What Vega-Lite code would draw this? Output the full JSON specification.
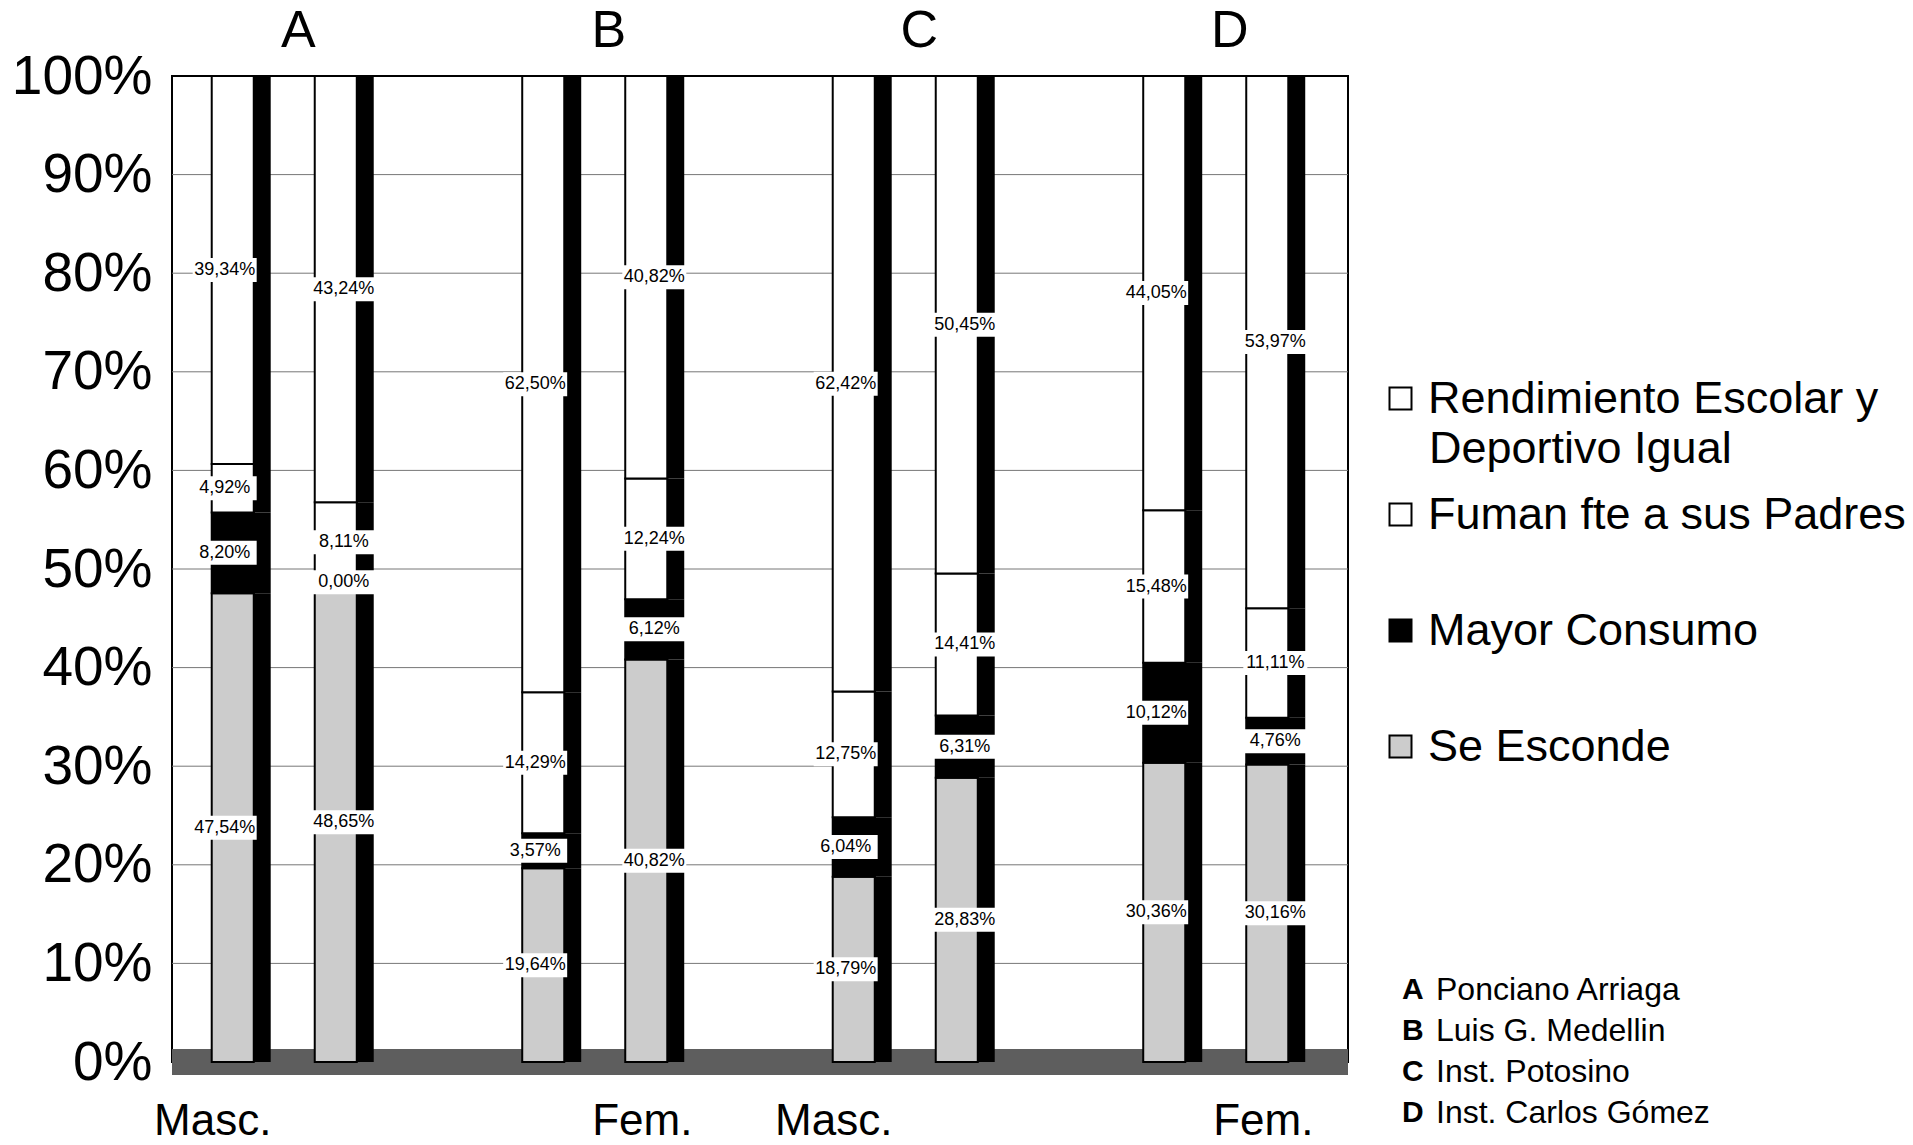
{
  "$schema": "https://vega.github.io/schema/vega-lite/v6.json",
  "width": 1176,
  "height": 986,
  "autosize": {"type": "none"},
  "padding": {"left": 172, "top": 76, "right": 565, "bottom": 83},
  "background": "white",
  "config": {"view": {"stroke": "black", "strokeWidth": 2}, "font": "Liberation Sans"},
  "resolve": {"scale": {"xOffset": "independent"}},
  "datasets": {
    "barras": [
      {"escuela": "A", "genero": "Masc.", "serie": "Se Esconde", "valor": 47.54},
      {"escuela": "A", "genero": "Masc.", "serie": "Mayor Consumo", "valor": 8.20},
      {"escuela": "A", "genero": "Masc.", "serie": "Fuman fte a sus Padres", "valor": 4.92},
      {"escuela": "A", "genero": "Masc.", "serie": "Rendimiento Escolar y Deportivo Igual", "valor": 39.34},
      {"escuela": "A", "genero": "Fem.", "serie": "Se Esconde", "valor": 48.65},
      {"escuela": "A", "genero": "Fem.", "serie": "Mayor Consumo", "valor": 0.00},
      {"escuela": "A", "genero": "Fem.", "serie": "Fuman fte a sus Padres", "valor": 8.11},
      {"escuela": "A", "genero": "Fem.", "serie": "Rendimiento Escolar y Deportivo Igual", "valor": 43.24},
      {"escuela": "B", "genero": "Masc.", "serie": "Se Esconde", "valor": 19.64},
      {"escuela": "B", "genero": "Masc.", "serie": "Mayor Consumo", "valor": 3.57},
      {"escuela": "B", "genero": "Masc.", "serie": "Fuman fte a sus Padres", "valor": 14.29},
      {"escuela": "B", "genero": "Masc.", "serie": "Rendimiento Escolar y Deportivo Igual", "valor": 62.50},
      {"escuela": "B", "genero": "Fem.", "serie": "Se Esconde", "valor": 40.82},
      {"escuela": "B", "genero": "Fem.", "serie": "Mayor Consumo", "valor": 6.12},
      {"escuela": "B", "genero": "Fem.", "serie": "Fuman fte a sus Padres", "valor": 12.24},
      {"escuela": "B", "genero": "Fem.", "serie": "Rendimiento Escolar y Deportivo Igual", "valor": 40.82},
      {"escuela": "C", "genero": "Masc.", "serie": "Se Esconde", "valor": 18.79},
      {"escuela": "C", "genero": "Masc.", "serie": "Mayor Consumo", "valor": 6.04},
      {"escuela": "C", "genero": "Masc.", "serie": "Fuman fte a sus Padres", "valor": 12.75},
      {"escuela": "C", "genero": "Masc.", "serie": "Rendimiento Escolar y Deportivo Igual", "valor": 62.42},
      {"escuela": "C", "genero": "Fem.", "serie": "Se Esconde", "valor": 28.83},
      {"escuela": "C", "genero": "Fem.", "serie": "Mayor Consumo", "valor": 6.31},
      {"escuela": "C", "genero": "Fem.", "serie": "Fuman fte a sus Padres", "valor": 14.41},
      {"escuela": "C", "genero": "Fem.", "serie": "Rendimiento Escolar y Deportivo Igual", "valor": 50.45},
      {"escuela": "D", "genero": "Masc.", "serie": "Se Esconde", "valor": 30.36},
      {"escuela": "D", "genero": "Masc.", "serie": "Mayor Consumo", "valor": 10.12},
      {"escuela": "D", "genero": "Masc.", "serie": "Fuman fte a sus Padres", "valor": 15.48},
      {"escuela": "D", "genero": "Masc.", "serie": "Rendimiento Escolar y Deportivo Igual", "valor": 44.05},
      {"escuela": "D", "genero": "Fem.", "serie": "Se Esconde", "valor": 30.16},
      {"escuela": "D", "genero": "Fem.", "serie": "Mayor Consumo", "valor": 4.76},
      {"escuela": "D", "genero": "Fem.", "serie": "Fuman fte a sus Padres", "valor": 11.11},
      {"escuela": "D", "genero": "Fem.", "serie": "Rendimiento Escolar y Deportivo Igual", "valor": 53.97}
    ],
    "escuelas": [
      {"escuela": "A", "nombre": "Ponciano Arriaga"},
      {"escuela": "B", "nombre": "Luis G. Medellin"},
      {"escuela": "C", "nombre": "Inst. Potosino"},
      {"escuela": "D", "nombre": "Inst. Carlos Gómez"}
    ],
    "generos": [
      {"escuela": "A", "genero": "Masc."},
      {"escuela": "B", "genero": "Fem."},
      {"escuela": "C", "genero": "Masc."},
      {"escuela": "D", "genero": "Fem."}
    ],
    "rejilla": [
      {"pct": 10}, {"pct": 20}, {"pct": 30}, {"pct": 40}, {"pct": 50},
      {"pct": 60}, {"pct": 70}, {"pct": 80}, {"pct": 90}
    ]
  },
  "layer": [
    {
      "data": {"name": "rejilla"},
      "mark": {"type": "rule", "color": "#777777", "strokeWidth": 1},
      "encoding": {
        "y": {"field": "pct", "type": "quantitative", "scale": {"domain": [0, 100], "nice": false},
          "axis": {"values": [0, 10, 20, 30, 40, 50, 60, 70, 80, 90, 100], "labelExpr": "datum.value + '%'", "title": null, "labelFont": "Liberation Sans", "labelFontSize": 55, "labelColor": "black", "labelPadding": 20, "domain": false, "ticks": false, "grid": false}}
      }
    },
    {
      "data": {"name": "escuelas"},
      "mark": {"type": "rule", "color": "#5e5e5e", "strokeWidth": 26},
      "encoding": {
        "y": {"datum": 0, "type": "quantitative",
          "axis": {"values": [0, 10, 20, 30, 40, 50, 60, 70, 80, 90, 100], "labelExpr": "datum.value + '%'", "title": null, "labelFont": "Liberation Sans", "labelFontSize": 55, "labelColor": "black", "labelPadding": 20, "domain": false, "ticks": false, "grid": false}}
      }
    },
    {
      "data": {"name": "barras"},
      "transform": [
        {"calculate": "indexof(['Se Esconde','Mayor Consumo','Fuman fte a sus Padres','Rendimiento Escolar y Deportivo Igual'], datum.serie)", "as": "orden"},
        {"stack": "valor", "groupby": ["escuela", "genero"], "sort": [{"field": "orden", "order": "ascending"}], "as": ["y0", "y1"]},
        {"calculate": "(datum.y0 + datum.y1) / 2", "as": "ymid"},
        {"calculate": "replace(format(datum.valor, '.2f'), '.', ',') + '%'", "as": "etiqueta"}
      ],
      "resolve": {"scale": {"xOffset": "independent"}},
      "encoding": {
        "x": {"field": "escuela", "type": "nominal", "axis": null, "scale": {"domain": ["A", "B", "C", "D"], "range": [-43, 1199], "paddingInner": 0, "paddingOuter": 0}},
        "xOffset": {"field": "genero", "type": "nominal", "scale": {"domain": ["Masc.", "Fem."], "paddingInner": 0.592, "paddingOuter": 0.803}}
      },
      "layer": [
        {
          "mark": {"type": "bar", "color": "black"},
          "encoding": {
            "xOffset": {"field": "genero", "type": "nominal", "scale": {"domain": ["Masc.", "Fem."], "paddingInner": 0.592, "paddingOuter": 0.803, "align": 0.6025}},
            "y": {"field": "y1", "type": "quantitative", "axis": {"values": [0, 10, 20, 30, 40, 50, 60, 70, 80, 90, 100], "labelExpr": "datum.value + '%'", "title": null, "labelFont": "Liberation Sans", "labelFontSize": 55, "labelColor": "black", "labelPadding": 20, "domain": false, "ticks": false, "grid": false}},
            "y2": {"field": "y0"}
          }
        },
        {
          "mark": {"type": "bar", "stroke": "black", "strokeWidth": 2},
          "encoding": {
            "y": {"field": "y1", "type": "quantitative", "axis": {"values": [0, 10, 20, 30, 40, 50, 60, 70, 80, 90, 100], "labelExpr": "datum.value + '%'", "title": null, "labelFont": "Liberation Sans", "labelFontSize": 55, "labelColor": "black", "labelPadding": 20, "domain": false, "ticks": false, "grid": false}},
            "y2": {"field": "y0"},
            "fill": {
              "field": "serie", "type": "nominal",
              "scale": {"domain": ["Rendimiento Escolar y Deportivo Igual", "Fuman fte a sus Padres", "Mayor Consumo", "Se Esconde"], "range": ["#ffffff", "#ffffff", "#000000", "#cccccc"]},
              "legend": {
                "orient": "none", "legendX": 1206, "legendY": 300, "title": null, "padding": 0,
                "symbolType": "square", "symbolSize": 484, "symbolStrokeColor": "black", "symbolStrokeWidth": 2,
                "labelFont": "Liberation Sans", "labelFontSize": 45, "labelColor": "black", "labelOffset": 5, "labelLimit": 700, "rowPadding": 70,
                "labelExpr": "datum.label == 'Rendimiento Escolar y Deportivo Igual' ? 'Rendimiento Escolar y' : datum.label"
              }
            }
          }
        },
        {
          "mark": {"type": "point", "shape": "M-1,-0.375L1,-0.375L1,0.375L-1,0.375Z", "filled": true, "fill": "white", "opacity": 1, "size": 4096, "strokeWidth": 0},
          "encoding": {
            "y": {"field": "ymid", "type": "quantitative", "axis": {"values": [0, 10, 20, 30, 40, 50, 60, 70, 80, 90, 100], "labelExpr": "datum.value + '%'", "title": null, "labelFont": "Liberation Sans", "labelFontSize": 55, "labelColor": "black", "labelPadding": 20, "domain": false, "ticks": false, "grid": false}}
          }
        },
        {
          "mark": {"type": "text", "font": "Liberation Sans", "fontSize": 18, "color": "black", "baseline": "middle", "align": "center"},
          "encoding": {
            "y": {"field": "ymid", "type": "quantitative", "axis": {"values": [0, 10, 20, 30, 40, 50, 60, 70, 80, 90, 100], "labelExpr": "datum.value + '%'", "title": null, "labelFont": "Liberation Sans", "labelFontSize": 55, "labelColor": "black", "labelPadding": 20, "domain": false, "ticks": false, "grid": false}},
            "text": {"field": "etiqueta"}
          }
        }
      ]
    },
    {
      "data": {"name": "escuelas"},
      "mark": {"type": "text", "font": "Liberation Sans", "fontSize": 52, "color": "black", "dy": -29, "dx": 14, "baseline": "alphabetic"},
      "encoding": {
        "x": {"field": "escuela", "type": "nominal", "axis": null},
        "y": {"datum": 100, "type": "quantitative", "axis": {"values": [0, 10, 20, 30, 40, 50, 60, 70, 80, 90, 100], "labelExpr": "datum.value + '%'", "title": null, "labelFont": "Liberation Sans", "labelFontSize": 55, "labelColor": "black", "labelPadding": 20, "domain": false, "ticks": false, "grid": false}},
        "text": {"field": "escuela"}
      }
    },
    {
      "data": {"name": "generos"},
      "mark": {"type": "text", "font": "Liberation Sans", "fontSize": 44, "color": "black", "dy": 60, "dx": -12, "baseline": "middle"},
      "encoding": {
        "x": {"field": "escuela", "type": "nominal", "axis": null},
        "xOffset": {"field": "genero", "type": "nominal", "scale": {"domain": ["Masc.", "Fem."], "paddingInner": 0.592, "paddingOuter": 0.803}},
        "y": {"datum": 0, "type": "quantitative", "axis": {"values": [0, 10, 20, 30, 40, 50, 60, 70, 80, 90, 100], "labelExpr": "datum.value + '%'", "title": null, "labelFont": "Liberation Sans", "labelFontSize": 55, "labelColor": "black", "labelPadding": 20, "domain": false, "ticks": false, "grid": false}},
        "text": {"field": "genero"}
      }
    },
    {
      "data": {"name": "escuelas"},
      "mark": {"type": "point", "opacity": 0, "filled": true},
      "encoding": {
        "x": {"field": "escuela", "type": "nominal", "axis": null},
        "y": {"datum": 100, "type": "quantitative", "axis": {"values": [0, 10, 20, 30, 40, 50, 60, 70, 80, 90, 100], "labelExpr": "datum.value + '%'", "title": null, "labelFont": "Liberation Sans", "labelFontSize": 55, "labelColor": "black", "labelPadding": 20, "domain": false, "ticks": false, "grid": false}},
        "stroke": {"datum": "Deportivo Igual", "type": "nominal", "legend": {"orient": "none", "legendX": 1206, "legendY": 350, "title": null, "padding": 0, "symbolOpacity": 0, "symbolSize": 0, "symbolStrokeWidth": 0, "labelOffset": 6, "labelFont": "Liberation Sans", "labelFontSize": 45, "labelColor": "black", "labelLimit": 700}},
        "shape": {"field": "escuela", "type": "nominal", "legend": {"orient": "none", "legendX": 1200, "legendY": 899, "title": null, "padding": 0, "symbolOpacity": 0, "symbolSize": 0, "labelOffset": 0, "labelFontWeight": "bold", "labelFontSize": 30, "labelColor": "black", "rowPadding": 11}},
        "strokeDash": {"field": "nombre", "type": "nominal", "sort": ["Ponciano Arriaga", "Luis G. Medellin", "Inst. Potosino", "Inst. Carlos Gómez"], "legend": {"orient": "none", "legendX": 1232, "legendY": 898, "title": null, "padding": 0, "symbolOpacity": 0, "symbolSize": 0, "symbolStrokeWidth": 0, "labelOffset": 0, "labelFontSize": 32, "labelColor": "black", "rowPadding": 9, "labelLimit": 400}}
      }
    }
  ]
}
